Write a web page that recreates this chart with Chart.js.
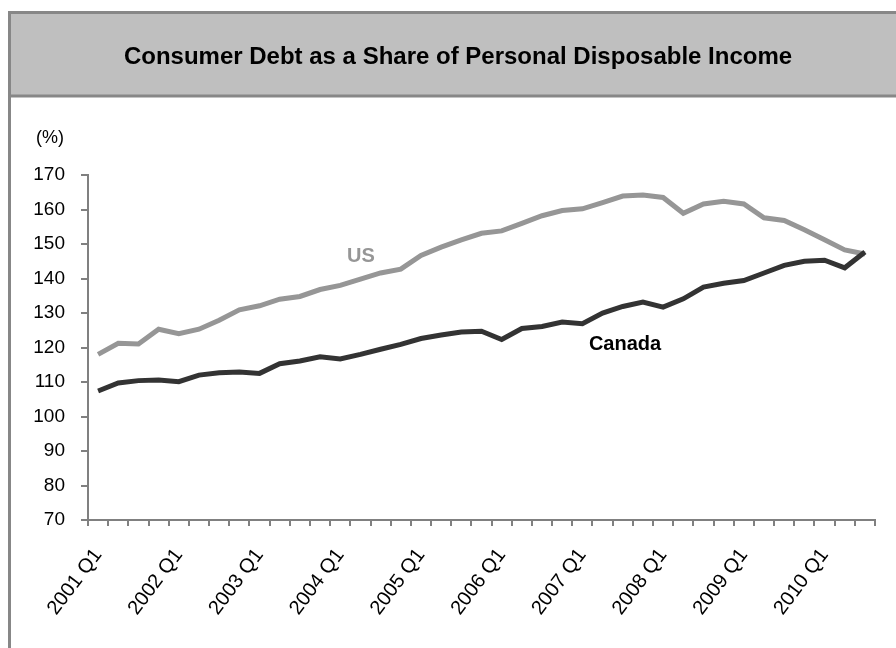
<!DOCTYPE html>
<html>
<head>
<meta charset="utf-8">
<script src="https://cdn.jsdelivr.net/npm/chart.js@4/dist/chart.umd.min.js"></script>
<style>
    html, body { margin: 0; padding: 0; background: #ffffff; }
    #wrap { position: relative; width: 896px; height: 648px; }
</style>
</head>
<body>
<div id="wrap"><canvas id="chart1" width="896" height="648"></canvas></div>
<script>
// quarterly categories, 2001 Q1 .. 2010 Q3
const quarters = [
    '2001 Q1', '2001 Q2', '2001 Q3', '2001 Q4',
    '2002 Q1', '2002 Q2', '2002 Q3', '2002 Q4',
    '2003 Q1', '2003 Q2', '2003 Q3', '2003 Q4',
    '2004 Q1', '2004 Q2', '2004 Q3', '2004 Q4',
    '2005 Q1', '2005 Q2', '2005 Q3', '2005 Q4',
    '2006 Q1', '2006 Q2', '2006 Q3', '2006 Q4',
    '2007 Q1', '2007 Q2', '2007 Q3', '2007 Q4',
    '2008 Q1', '2008 Q2', '2008 Q3', '2008 Q4',
    '2009 Q1', '2009 Q2', '2009 Q3', '2009 Q4',
    '2010 Q1', '2010 Q2', '2010 Q3'
];

// debt as % of personal disposable income
const usDebt = [
    118.0, 121.2, 121.0, 125.3, 124.0, 125.3, 127.9, 130.9,
    132.1, 134.0, 134.8, 136.8, 138.0, 139.8, 141.6, 142.7,
    146.7, 149.1, 151.2, 153.1, 153.8, 156.0, 158.2, 159.7,
    160.2, 162.0, 163.9, 164.2, 163.5, 158.9, 161.6, 162.4,
    161.6, 157.6, 156.8, 154.1, 151.2, 148.3, 147.1
];
const canadaDebt = [
    107.4, 109.7, 110.4, 110.6, 110.1, 112.0, 112.7, 112.9,
    112.5, 115.3, 116.1, 117.3, 116.7, 118.0, 119.5, 120.9,
    122.6, 123.6, 124.5, 124.7, 122.3, 125.5, 126.1, 127.4,
    126.9, 130.0, 131.9, 133.2, 131.7, 134.1, 137.5, 138.6,
    139.4, 141.6, 143.8, 145.0, 145.3, 143.1, 147.7
];

const yTicks = { min: 70, max: 170, step: 10 };
const labelEvery = 4;

const FONT = "'Liberation Sans', Arial, sans-serif";
const TITLE = 'Consumer Debt as a Share of Personal Disposable Income';

// frame, grey header band and title
const framePlugin = {
    id: 'frame',
    beforeDraw(chart) {
        const c = chart.ctx;
        c.save();
        c.fillStyle = '#ffffff';
        c.fillRect(0, 0, chart.width, chart.height);
        c.fillStyle = '#bfbfbf';
        c.fillRect(9, 12, chart.width, 85);
        c.strokeStyle = '#878787';
        c.lineWidth = 3;
        c.beginPath();
        c.moveTo(9.5, chart.height);
        c.lineTo(9.5, 12.5);
        c.lineTo(chart.width, 12.5);
        c.moveTo(9.5, 96);
        c.lineTo(chart.width, 96);
        c.stroke();
        c.fillStyle = '#000000';
        c.font = 'bold 24px ' + FONT;
        c.textAlign = 'center';
        c.textBaseline = 'middle';
        c.fillText(TITLE, 458, 57);
        c.restore();
    },
    afterDatasetsDraw(chart) {
        const c = chart.ctx;
        c.save();
        c.textAlign = 'center';
        c.textBaseline = 'middle';
        c.fillStyle = '#000000';
        c.font = '18px ' + FONT;
        c.fillText('(%)', 50, 138);
        c.font = 'bold 20px ' + FONT;
        c.fillStyle = '#969696';
        c.fillText('US', 361, 256);
        c.fillStyle = '#000000';
        c.fillText('Canada', 625, 344);
        c.restore();
    }
};

function drawChart() {
    const ctx = document.getElementById('chart1');

    const chart = new Chart(ctx, {
        type: 'line',
        data: {
            labels: quarters,
            datasets: [{
                label: 'US',
                data: usDebt,
                borderColor: '#969696',
                borderWidth: 5,
                pointRadius: 0,
                tension: 0,
                order: 2
            }, {
                label: 'Canada',
                data: canadaDebt,
                borderColor: '#333333',
                borderWidth: 5,
                pointRadius: 0,
                tension: 0,
                order: 1
            }]
        },
        plugins: [framePlugin],
        options: {
            responsive: false,
            animation: false,
            layout: {
                padding: { left: 0, right: 21, top: 175, bottom: 0 }
            },
            scales: {
                x: {
                    offset: true,
                    afterFit: (scale) => {
                        scale.height = 128;
                        scale.paddingLeft = 0;
                        scale.paddingRight = 0;
                    },
                    border: { color: '#808080', width: 2 },
                    grid: {
                        offset: true,
                        drawOnChartArea: false,
                        drawTicks: true,
                        tickLength: 6,
                        color: '#808080',
                        lineWidth: 2
                    },
                    ticks: {
                        autoSkip: false,
                        minRotation: 53,
                        maxRotation: 53,
                        padding: 18,
                        color: '#000000',
                        font: { family: FONT, size: 20 },
                        callback: function (val, i) {
                            return i % labelEvery === 0 ? quarters[i] : '';
                        }
                    }
                },
                y: {
                    min: yTicks.min,
                    max: yTicks.max,
                    afterFit: (scale) => { scale.width = 88; },
                    border: { color: '#808080', width: 2 },
                    grid: {
                        drawOnChartArea: false,
                        drawTicks: true,
                        tickLength: 7,
                        color: '#808080',
                        lineWidth: 2
                    },
                    ticks: {
                        stepSize: yTicks.step,
                        padding: 16,
                        color: '#000000',
                        font: { family: FONT, size: 19 }
                    }
                }
            },
            plugins: {
                legend: { display: false },
                title: { display: false },
                tooltip: { enabled: false }
            }
        }
    });
}

drawChart();
</script>
</body>
</html>
